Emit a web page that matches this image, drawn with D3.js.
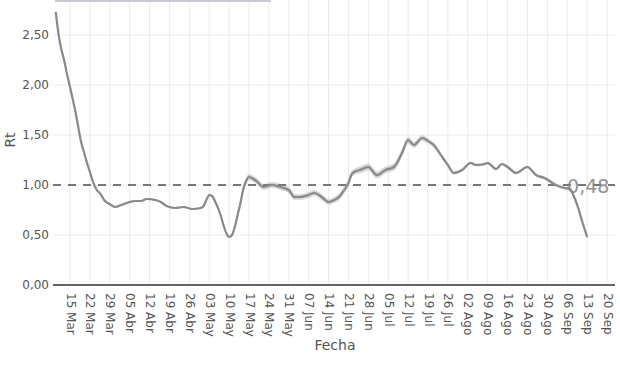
<!DOCTYPE html>
<html lang="es">
<head>
<meta charset="UTF-8">
<title>Rt</title>
<script src="https://d3js.org/d3.v7.min.js"></script>
<style>
  body { margin: 0; background: #fff; }
  text { font-family: "DejaVu Sans", Verdana, sans-serif; }
</style>
</head>
<body>
<svg id="chart" width="620" height="368"></svg>
<script>
// data
const dates = ["2020-03-10","2020-03-11","2020-03-12","2020-03-13","2020-03-14","2020-03-15","2020-03-17","2020-03-19","2020-03-20","2020-03-21",
  "2020-03-22","2020-03-23","2020-03-24","2020-03-26","2020-03-27","2020-03-29","2020-03-31","2020-04-02","2020-04-05","2020-04-07",
  "2020-04-09","2020-04-11","2020-04-14","2020-04-16","2020-04-18","2020-04-21","2020-04-24","2020-04-27","2020-04-30","2020-05-01",
  "2020-05-02","2020-05-03","2020-05-04","2020-05-05","2020-05-07","2020-05-08","2020-05-09","2020-05-10","2020-05-11","2020-05-12",
  "2020-05-13","2020-05-14","2020-05-15","2020-05-16","2020-05-17","2020-05-18","2020-05-20","2020-05-22","2020-05-25","2020-05-28",
  "2020-05-31","2020-06-02","2020-06-04","2020-06-07","2020-06-09","2020-06-12","2020-06-14","2020-06-16","2020-06-18","2020-06-19",
  "2020-06-20","2020-06-21","2020-06-22","2020-06-23","2020-06-25","2020-06-28","2020-07-01","2020-07-04","2020-07-07","2020-07-09",
  "2020-07-10","2020-07-12","2020-07-14","2020-07-17","2020-07-19","2020-07-21","2020-07-24","2020-07-26","2020-07-28","2020-07-31",
  "2020-08-03","2020-08-05","2020-08-08","2020-08-09","2020-08-12","2020-08-14","2020-08-16","2020-08-19","2020-08-23","2020-08-26",
  "2020-08-29","2020-09-02","2020-09-05","2020-09-07","2020-09-08","2020-09-09","2020-09-10","2020-09-11","2020-09-12","2020-09-13"];
const rt = [2.73,2.50,2.35,2.24,2.10,1.98,1.72,1.42,1.32,1.22,
  1.13,1.04,0.97,0.90,0.85,0.81,0.78,0.80,0.83,0.84,
  0.84,0.86,0.85,0.83,0.79,0.77,0.78,0.76,0.77,0.79,
  0.85,0.90,0.89,0.84,0.70,0.60,0.52,0.48,0.50,0.58,
  0.70,0.82,0.96,1.04,1.08,1.07,1.03,0.98,1.00,0.98,
  0.95,0.88,0.88,0.90,0.92,0.87,0.83,0.85,0.89,0.93,
  0.97,1.02,1.10,1.13,1.15,1.18,1.10,1.15,1.18,1.27,
  1.33,1.45,1.40,1.47,1.44,1.40,1.28,1.20,1.12,1.15,
  1.22,1.20,1.21,1.22,1.16,1.21,1.18,1.12,1.18,1.10,
  1.07,1.00,0.97,0.96,0.91,0.84,0.76,0.66,0.57,0.48];
// half width of the confidence band
const ci = [0.005,0.005,0.005,0.005,0.005,0.005,0.005,0.005,0.005,0.005,
  0.005,0.005,0.005,0.005,0.005,0.005,0.005,0.005,0.005,0.005,
  0.005,0.005,0.005,0.005,0.005,0.005,0.005,0.005,0.005,0.006,
  0.006,0.006,0.006,0.006,0.006,0.006,0.006,0.006,0.006,0.008,
  0.01,0.015,0.02,0.025,0.025,0.025,0.025,0.025,0.025,0.025,
  0.025,0.025,0.025,0.025,0.025,0.025,0.025,0.025,0.025,0.025,
  0.025,0.025,0.025,0.025,0.03,0.03,0.03,0.03,0.03,0.03,
  0.03,0.03,0.025,0.025,0.02,0.02,0.015,0.012,0.01,0.01,
  0.01,0.01,0.01,0.01,0.01,0.01,0.01,0.01,0.01,0.01,
  0.01,0.01,0.01,0.01,0.01,0.01,0.01,0.01,0.01,0.01];
const yTicks = [0, 0.5, 1, 1.5, 2, 2.5];
const meses = ["Ene","Feb","Mar","Abr","May","Jun","Jul","Ago","Sep","Oct","Nov","Dic"];
const threshold = 1;
const lastLabel = "0,48";

const parse = d3.timeParse("%Y-%m-%d");
const data = dates.map((d, i) => ({date: parse(d), v: rt[i], ci: ci[i]}));

const svg = d3.select("#chart");
const plotL = 53, plotR = 615, plotT = 0, plotB = 285;

const x = d3.scaleTime()
  .domain([parse("2020-03-15"), parse("2020-09-20")])
  .range([70, 607]);
const y = d3.scaleLinear().domain([0, 2.85]).range([plotB, plotT]);

const xTicks = d3.timeWeek.range(parse("2020-03-15"), d3.timeDay.offset(parse("2020-09-20"), 1));

// grid
svg.append("g").selectAll("line").data(xTicks).join("line")
  .attr("x1", d => x(d)).attr("x2", d => x(d))
  .attr("y1", plotT).attr("y2", plotB)
  .attr("stroke", "#ebebeb").attr("stroke-width", 1);
svg.append("g").selectAll("line").data(yTicks.filter(d => d > 0)).join("line")
  .attr("x1", plotL).attr("x2", plotR)
  .attr("y1", d => y(d)).attr("y2", d => y(d))
  .attr("stroke", "#ebebeb").attr("stroke-width", 1);

// strip at the top edge
svg.append("rect").attr("x", 55).attr("y", 0).attr("width", 216).attr("height", 2)
  .attr("fill", "#c5cad3");

// y axis
const yAxis = svg.append("g").attr("transform", `translate(${plotL},0)`)
  .call(d3.axisLeft(y).tickValues(yTicks).tickSize(0).tickPadding(4)
    .tickFormat(d => d3.format(".2f")(d).replace(".", ",")));
yAxis.select(".domain").remove();
yAxis.selectAll("text").attr("fill", "#555").attr("font-size", 12)
  .attr("font-family", "DejaVu Sans, Verdana, sans-serif");

// x axis
const xAxis = svg.append("g").attr("transform", `translate(0,${plotB})`)
  .call(d3.axisBottom(x).tickValues(xTicks).tickSize(0)
    .tickFormat(d => d3.timeFormat("%d")(d) + " " + meses[d.getMonth()]));
xAxis.select(".domain").remove();
xAxis.selectAll("text")
  .attr("fill", "#555").attr("font-size", 12)
  .attr("font-family", "DejaVu Sans, Verdana, sans-serif")
  .attr("text-anchor", "start")
  .attr("dy", null).attr("y", 0)
  .attr("transform", "translate(-4,8) rotate(90)");

svg.append("line").attr("x1", plotL).attr("x2", plotR)
  .attr("y1", plotB).attr("y2", plotB)
  .attr("stroke", "#666").attr("stroke-width", 2);

// band
const area = d3.area().curve(d3.curveMonotoneX)
  .x(d => x(d.date)).y0(d => y(d.v - d.ci)).y1(d => y(d.v + d.ci));
svg.append("path").datum(data).attr("d", area)
  .attr("fill", "#bdbdbd").attr("opacity", 0.7)
  .attr("stroke", "#cfcfcf").attr("stroke-width", 1.2);

// threshold
svg.append("line").attr("x1", plotL).attr("x2", plotR)
  .attr("y1", y(threshold)).attr("y2", y(threshold))
  .attr("stroke", "#777").attr("stroke-width", 2)
  .attr("stroke-dasharray", "8,7");

// line
const line = d3.line().curve(d3.curveMonotoneX)
  .x(d => x(d.date)).y(d => y(d.v));
svg.append("path").datum(data).attr("d", line)
  .attr("fill", "none").attr("stroke", "#8a8a8a").attr("stroke-width", 2.2)
  .attr("stroke-linejoin", "round");

// last value label
const last = data[data.length - 1];
svg.append("text").attr("x", x(last.date) - 20).attr("y", y(threshold) + 8)
  .attr("font-size", 19).attr("fill", "#888").attr("opacity", 0.9)
  .text(lastLabel);

// axis titles
svg.append("text").attr("x", 335).attr("y", 350).attr("text-anchor", "middle")
  .attr("font-size", 14).attr("fill", "#555").text("Fecha");
svg.append("text").attr("transform", "translate(15,140) rotate(-90)")
  .attr("text-anchor", "middle").attr("font-size", 14).attr("fill", "#555").text("Rt");
</script>
</body>
</html>
